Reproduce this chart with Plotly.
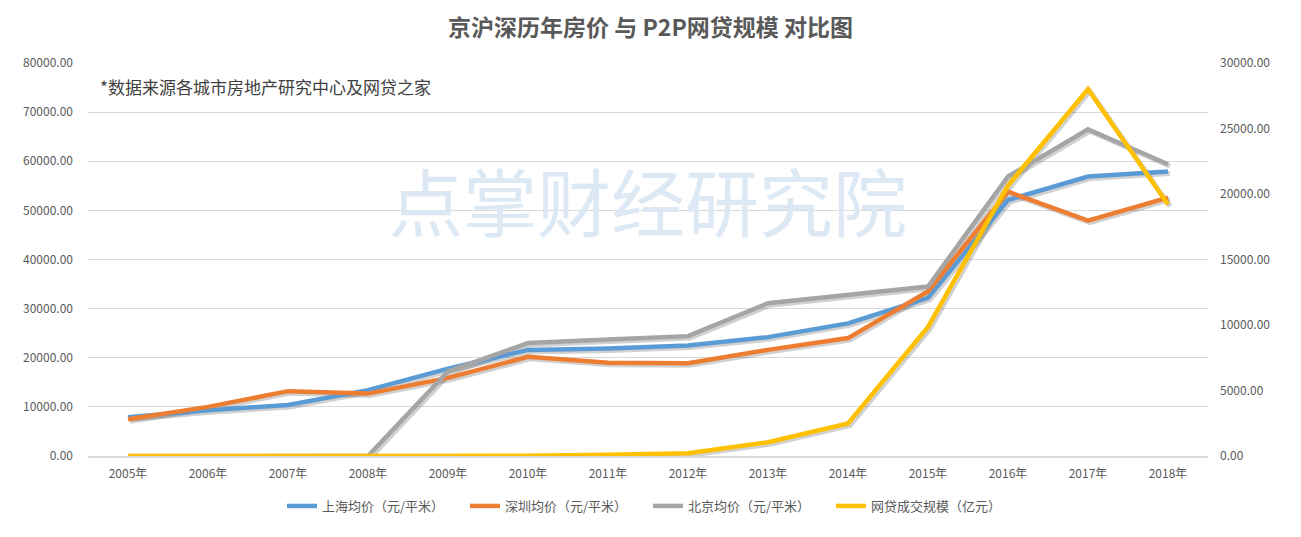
import plotly.graph_objects as go

years = ["2005年", "2006年", "2007年", "2008年", "2009年", "2010年", "2011年",
         "2012年", "2013年", "2014年", "2015年", "2016年", "2017年", "2018年"]
shanghai = [7900, 9300, 10400, 13400, 17800, 21600, 21900, 22500, 24200, 27000, 32200, 52100, 56900, 57900]
shenzhen = [7500, 10000, 13200, 12700, 15900, 20200, 19000, 18900, 21600, 24000, 33500, 53800, 47900, 52600]
beijing = [0, 0, 0, 0, 17200, 23000, 23700, 24400, 31100, 32700, 34500, 56900, 66500, 59400]
p2p = [0, 0, 0, 0, 3, 14, 97, 212, 1050, 2480, 9850, 20650, 28000, 19200]

names = ["上海均价（元/平米）", "深圳均价（元/平米）", "北京均价（元/平米）", "网贷成交规模（亿元）"]
colors = ["#5B9BD5", "#ED7D31", "#A5A5A5", "#FFC000"]

FONT = "Noto Sans CJK SC"
TXT = "#595959"
GRID = "#D9D9D9"

L_MAX, R_MAX = 80000, 30000
plot_h = 393
shift_px = 2.0
dx = shift_px / 80.0
dyl = shift_px * L_MAX / plot_h
ratio = L_MAX / R_MAX

fig = go.Figure()

# shadows (base hidden axes, drawn first)
for vals, scale in [(shanghai, 1), (shenzhen, 1), (beijing, 1), (p2p, ratio)]:
    fig.add_trace(go.Scatter(
        x=years, y=[v * scale for v in vals], mode="lines",
        line=dict(color="rgba(0,0,0,0.18)", width=5),
        xaxis="x", yaxis="y", showlegend=False, hoverinfo="skip"))

for vals, name, c in zip([shanghai, shenzhen, beijing], names[:3], colors[:3]):
    fig.add_trace(go.Scatter(
        x=years, y=vals, mode="lines", name=name,
        line=dict(color=c, width=4.5), xaxis="x2", yaxis="y2"))

fig.add_trace(go.Scatter(
    x=years, y=p2p, mode="lines", name=names[3],
    line=dict(color=colors[3], width=4.5), xaxis="x2", yaxis="y3"))

fig.update_layout(
    width=1301, height=537,
    margin=dict(l=88, r=93, t=63, b=81),
    paper_bgcolor="white", plot_bgcolor="white",
    font=dict(family=FONT, size=12, color=TXT),
    title=dict(text="<b>京沪深历年房价 与 P2P网贷规模 对比图</b>",
               x=0.5, xanchor="center", y=1 - 28 / 537, yanchor="middle",
               font=dict(family=FONT, size=23, color=TXT)),
    xaxis=dict(type="category", range=[-0.5 - dx, 13.5 - dx], visible=False),
    yaxis=dict(range=[0 + dyl, L_MAX + dyl], visible=False),
    xaxis2=dict(type="category", overlaying="x", anchor="y2", range=[-0.5, 13.5],
                showgrid=False, showline=True, linecolor=GRID, linewidth=2,
                ticks="", tickfont=dict(family=FONT, size=12, color=TXT),
                ticklabelstandoff=6),
    yaxis2=dict(overlaying="y", side="left", anchor="x2", range=[0, L_MAX], dtick=10000,
                tickformat=".2f", showgrid=True, gridcolor=GRID, gridwidth=1,
                zeroline=False, showline=False, ticks="",
                tickfont=dict(family=FONT, size=12, color=TXT), ticklabelstandoff=14),
    yaxis3=dict(overlaying="y", side="right", anchor="x2", range=[0, R_MAX], dtick=5000,
                tickformat=".2f", showgrid=False, zeroline=False, showline=False, ticks="",
                tickfont=dict(family=FONT, size=12, color=TXT), ticklabelstandoff=11),
    legend=dict(orientation="h", x=0.5, xanchor="center", y=-50 / 393, yanchor="middle",
                font=dict(family=FONT, size=13, color=TXT),
                entrywidth=138, entrywidthmode="pixels", bgcolor="rgba(0,0,0,0)"),
    showlegend=True,
)

fig.add_annotation(text="*数据来源各城市房地产研究中心及网贷之家", xref="paper", yref="paper",
                   x=(98 - 88) / 1120, y=(456 - 86) / 393, xanchor="left", yanchor="middle",
                   showarrow=False, font=dict(family=FONT, size=17, color="#404040"))
fig.add_annotation(text="点掌财经研究院", xref="paper", yref="paper",
                   x=(648 - 88) / 1120, y=(456 - 198) / 393, xanchor="center", yanchor="middle",
                   showarrow=False, font=dict(family=FONT, size=74, color="#DDE8F5"))

fig.write_html("out.html", config={"displayModeBar": False},
               post_script="document.body.style.margin='0';")
